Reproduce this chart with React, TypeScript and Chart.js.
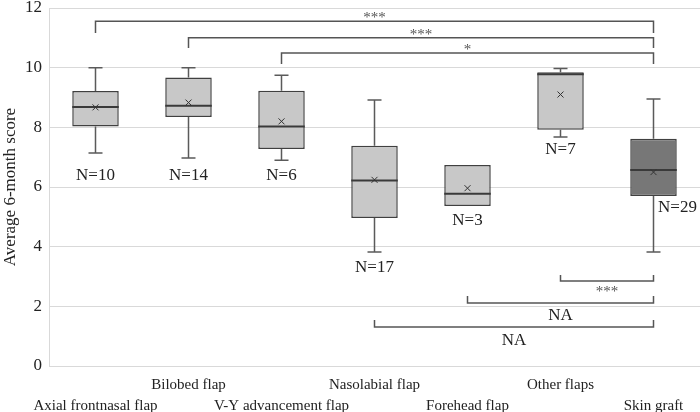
import React, { useEffect, useRef } from "react";
import { Chart, registerables } from "chart.js";

Chart.register(...registerables);

const categories = [
  "Axial frontnasal flap",
  "Bilobed flap",
  "V-Y advancement flap",
  "Nasolabial flap",
  "Forehead flap",
  "Other flaps",
  "Skin graft",
];
const whiskerMin = [7.14, 6.97, 6.9, 3.82, 5.36, 7.68, 3.82];
const q1 = [8.03, 8.35, 7.27, 4.96, 5.36, 7.92, 5.7];
const median = [8.68, 8.72, 8.03, 6.22, 5.77, 9.78, 6.57];
const q3 = [9.22, 9.67, 9.23, 7.38, 6.74, 9.85, 7.62];
const whiskerMax = [10, 10, 9.75, 8.92, 6.74, 9.97, 8.95];
const mean = [8.67, 8.83, 8.2, 6.24, 5.96, 9.1, 6.5];
const nLabels = ["N=10", "N=14", "N=6", "N=17", "N=3", "N=7", "N=29"];
const nLabelY = [6.37, 6.37, 6.37, 3.29, 4.86, 7.24, 5.3];
const yTicks = [0, 2, 4, 6, 8, 10, 12];

// significance brackets
const topFrom = [0, 1, 2];
const topLevel = [11.56, 11.0, 10.49];
const topTip = [11.16, 10.66, 10.12];
const topLabel = ["***", "***", "*"];
const botFrom = [5, 4, 3];
const botLevel = [2.85, 2.11, 1.31];
const botTip = [3.05, 2.35, 1.54];
const botLabel = ["***", "NA", "NA"];
const bracketTo = 6;

const FONT = '"Liberation Serif", "Times New Roman", serif';

const extras = {
  id: "boxExtras",
  beforeDatasetsDraw(chart: any) {
    const ctx = chart.ctx;
    const x = chart.scales.x;
    const y = chart.scales.y;
    ctx.save();
    ctx.strokeStyle = "#5a5a5a";
    ctx.lineWidth = 1.5;
    categories.forEach((_, i) => {
      const cx = x.getPixelForValue(i);
      const segs = [
        [q3[i], whiskerMax[i]],
        [q1[i], whiskerMin[i]],
      ];
      segs.forEach(([a, b]) => {
        if (Math.abs(a - b) < 1e-6) return;
        const ya = y.getPixelForValue(a);
        const yb = y.getPixelForValue(b);
        ctx.beginPath();
        ctx.moveTo(cx, ya);
        ctx.lineTo(cx, yb);
        ctx.moveTo(cx - 7, yb);
        ctx.lineTo(cx + 7, yb);
        ctx.stroke();
      });
    });
    ctx.restore();
  },
  afterDatasetsDraw(chart: any) {
    const ctx = chart.ctx;
    const x = chart.scales.x;
    const y = chart.scales.y;
    const meta = chart.getDatasetMeta(0);
    ctx.save();
    categories.forEach((_, i) => {
      const cx = x.getPixelForValue(i);
      const bar = meta.data[i];
      const half = bar.width / 2;
      ctx.strokeStyle = "#3a3a3a";
      ctx.lineWidth = 2;
      const my = y.getPixelForValue(median[i]);
      ctx.beginPath();
      ctx.moveTo(cx - half, my);
      ctx.lineTo(cx + half, my);
      ctx.stroke();
      const yy = y.getPixelForValue(mean[i]);
      ctx.strokeStyle = "#333";
      ctx.lineWidth = 1;
      ctx.beginPath();
      ctx.moveTo(cx - 3, yy - 3);
      ctx.lineTo(cx + 3, yy + 3);
      ctx.moveTo(cx + 3, yy - 3);
      ctx.lineTo(cx - 3, yy + 3);
      ctx.stroke();
      ctx.fillStyle = "#222";
      ctx.font = `17px ${FONT}`;
      ctx.textAlign = "center";
      ctx.textBaseline = "middle";
      const dx = i === categories.length - 1 ? 24 : 0;
      ctx.fillText(nLabels[i], cx + dx, y.getPixelForValue(nLabelY[i]));
    });

    ctx.strokeStyle = "#555";
    ctx.lineWidth = 1.5;
    const xTo = x.getPixelForValue(bracketTo);
    topFrom.forEach((f, k) => {
      const xf = x.getPixelForValue(f);
      const ly = y.getPixelForValue(topLevel[k]);
      const ty = y.getPixelForValue(topTip[k]);
      ctx.beginPath();
      ctx.moveTo(xf, ty);
      ctx.lineTo(xf, ly);
      ctx.lineTo(xTo, ly);
      ctx.lineTo(xTo, ty);
      ctx.stroke();
      ctx.fillStyle = "#555";
      ctx.font = `15px ${FONT}`;
      ctx.textAlign = "center";
      ctx.textBaseline = "middle";
      ctx.fillText(topLabel[k], (xf + xTo) / 2, ly - 3);
    });
    botFrom.forEach((f, k) => {
      const xf = x.getPixelForValue(f);
      const ly = y.getPixelForValue(botLevel[k]);
      const ty = y.getPixelForValue(botTip[k]);
      ctx.beginPath();
      ctx.moveTo(xf, ty);
      ctx.lineTo(xf, ly);
      ctx.lineTo(xTo, ly);
      ctx.lineTo(xTo, ty);
      ctx.stroke();
      const isStar = botLabel[k].indexOf("*") >= 0;
      ctx.fillStyle = isStar ? "#555" : "#222";
      ctx.font = isStar ? `15px ${FONT}` : `17px ${FONT}`;
      ctx.textAlign = "center";
      ctx.textBaseline = "middle";
      ctx.fillText(botLabel[k], (xf + xTo) / 2, ly + (isStar ? 11 : 11 + k * 1.5));
    });
    ctx.restore();
  },
};

export default function App() {
  const ref = useRef<HTMLCanvasElement>(null);
  useEffect(() => {
    if (!ref.current) return;
    const chart = new Chart(ref.current, {
      type: "bar",
      data: {
        labels: categories,
        datasets: [
          {
            data: categories.map((_, i) => [q1[i], q3[i]]) as any,
            backgroundColor: categories.map((_, i) =>
              i === categories.length - 1 ? "#777777" : "#c8c8c8"
            ),
            borderColor: "#404040",
            borderWidth: 1.5,
            borderSkipped: false,
            barPercentage: 0.5,
            categoryPercentage: 1.0,
          },
        ],
      },
      options: {
        animation: false,
        responsive: false,
        events: [],
        layout: { padding: { top: 8, right: 0, left: 0, bottom: 0 } },
        plugins: { legend: { display: false }, tooltip: { enabled: false } },
        scales: {
          x: {
            grid: { display: false },
            border: { display: false },
            afterFit: (axis: any) => {
              axis.height = 46;
            },
            ticks: {
              autoSkip: false,
              maxRotation: 0,
              minRotation: 0,
              padding: 1,
              color: "#222",
              font: { family: FONT, size: 15, lineHeight: 1.4 },
              callback: (_v: any, i: number) =>
                i % 2 === 0 ? ["", categories[i]] : [categories[i], ""],
            },
          },
          y: {
            min: 0,
            max: 12,
            afterFit: (axis: any) => {
              axis.width = 49;
              axis.paddingTop = 0;
              axis.paddingBottom = 0;
            },
            afterBuildTicks: (axis: any) => {
              axis.ticks = yTicks.map((v) => ({ value: v }));
            },
            grid: { color: "#d9d9d9", lineWidth: 1, drawTicks: false },
            border: { display: true, color: "#d9d9d9" },
            ticks: {
              padding: 7,
              color: "#222",
              font: { family: FONT, size: 17 },
            },
            title: {
              display: true,
              text: "Average 6-month score",
              color: "#222",
              font: { family: FONT, size: 17 },
              padding: 0,
            },
          },
        },
      },
      plugins: [extras],
    });
    return () => chart.destroy();
  }, []);
  return (
    <div style={{ position: "absolute", left: 0, top: 0, width: 700, height: 412, background: "#fff" }}>
      <canvas ref={ref} width={700} height={412} />
    </div>
  );
}
